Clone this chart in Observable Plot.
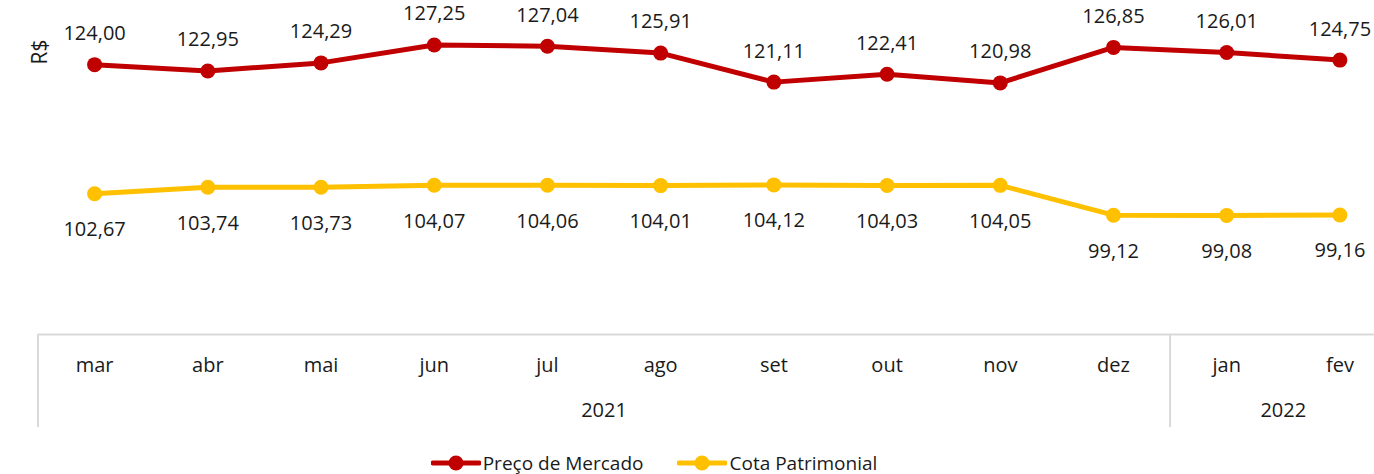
<!DOCTYPE html>
<html>
<head>
<meta charset="utf-8">
<script src="https://cdn.jsdelivr.net/npm/d3@7"></script>
<script src="https://cdn.jsdelivr.net/npm/@observablehq/plot@0.6"></script>
<style>
  html, body { margin: 0; padding: 0; background: #fff; overflow: hidden; width: 1374px; }
  #chart svg { overflow: hidden; }
  .legend { display: flex; justify-content: center; align-items: center; gap: 34px;
    font-family: "Open Sans", sans-serif; font-size: 19px; color: #1a1a1a; height: 46px; padding-right: 66px; }
  .legend .item { display: flex; align-items: center; gap: 2px; }
</style>
</head>
<body>
<div id="chart"></div>
<div class="legend" id="legend"></div>
<script>
const months = ["mar","abr","mai","jun","jul","ago","set","out","nov","dez","jan","fev"];
const yearGroups = [{year: "2021", count: 10}, {year: "2022", count: 2}];
const precoMercado = [124.00,122.95,124.29,127.25,127.04,125.91,121.11,122.41,120.98,126.85,126.01,124.75];
const cotaPatrimonial = [102.67,103.74,103.73,104.07,104.06,104.01,104.12,104.03,104.05,99.12,99.08,99.16];
const seriesNames = ["Preço de Mercado", "Cota Patrimonial"];
const seriesColors = ["#C00000", "#FFC000"];
const yDomain = [79.4, 134.6];
const yUnit = "R$";

const fmt = v => v.toFixed(2).replace(".", ",");
const red = precoMercado.map((v, i) => ({i, v}));
const yel = cotaPatrimonial.map((v, i) => ({i, v}));

let start = 0;
const groups = yearGroups.map(g => {
  const o = {year: g.year, from: start - 0.5, to: start + g.count - 0.5};
  start += g.count;
  return o;
});
const boundaries = groups.map(g => g.from);
const yMin = yDomain[0];

const chart = Plot.plot({
  width: 1374,
  height: 440,
  marginTop: 0,
  marginLeft: 0,
  marginRight: 0,
  marginBottom: 106,
  style: {fontFamily: "Open Sans, sans-serif", fontSize: "20px", color: "#1a1a1a", background: "#fff"},
  x: {type: "linear", domain: [-0.5, months.length - 0.5], range: [37.5, 1396], axis: null},
  y: {domain: yDomain, axis: null},
  marks: [
    Plot.ruleY([yMin], {x1: -0.5, x2: months.length - 0.5, stroke: "#d9d9d9", strokeWidth: 2}),
    Plot.ruleX(boundaries, {x: d => d, y1: yMin, y2: yMin, insetBottom: -93, stroke: "#d9d9d9", strokeWidth: 2}),
    Plot.text(months, {x: (d, i) => i, y: yMin, dy: 31, text: d => d, fill: "#1a1a1a"}),
    Plot.text(groups, {x: g => (g.from + g.to) / 2, y: yMin, dy: 76, text: "year", fill: "#1a1a1a"}),
    Plot.line(red, {x: "i", y: "v", stroke: seriesColors[0], strokeWidth: 5}),
    Plot.dot(red, {x: "i", y: "v", r: 7.5, fill: seriesColors[0]}),
    Plot.line(yel, {x: "i", y: "v", stroke: seriesColors[1], strokeWidth: 5}),
    Plot.dot(yel, {x: "i", y: "v", r: 7.5, fill: seriesColors[1]}),
    Plot.text(red, {x: "i", y: "v", dy: -31, text: d => fmt(d.v), fill: "#1a1a1a"}),
    Plot.text(yel, {x: "i", y: "v", dy: 36, text: d => fmt(d.v), fill: "#1a1a1a"}),
    Plot.text([yUnit], {frameAnchor: "top-left", dx: 32, dy: 64, rotate: -90, text: d => d, fontSize: 21, fill: "#1a1a1a"})
  ]
});
document.getElementById("chart").appendChild(chart);

const legend = document.getElementById("legend");
seriesNames.forEach((name, k) => {
  const item = document.createElement("div");
  item.className = "item";
  item.innerHTML = `<svg width="50" height="18"><line x1="2" y1="9" x2="48" y2="9" stroke="${seriesColors[k]}" stroke-width="5" stroke-linecap="round"/><circle cx="25" cy="9" r="7.5" fill="${seriesColors[k]}"/></svg><span>${name}</span>`;
  legend.appendChild(item);
});
</script>
</body>
</html>
